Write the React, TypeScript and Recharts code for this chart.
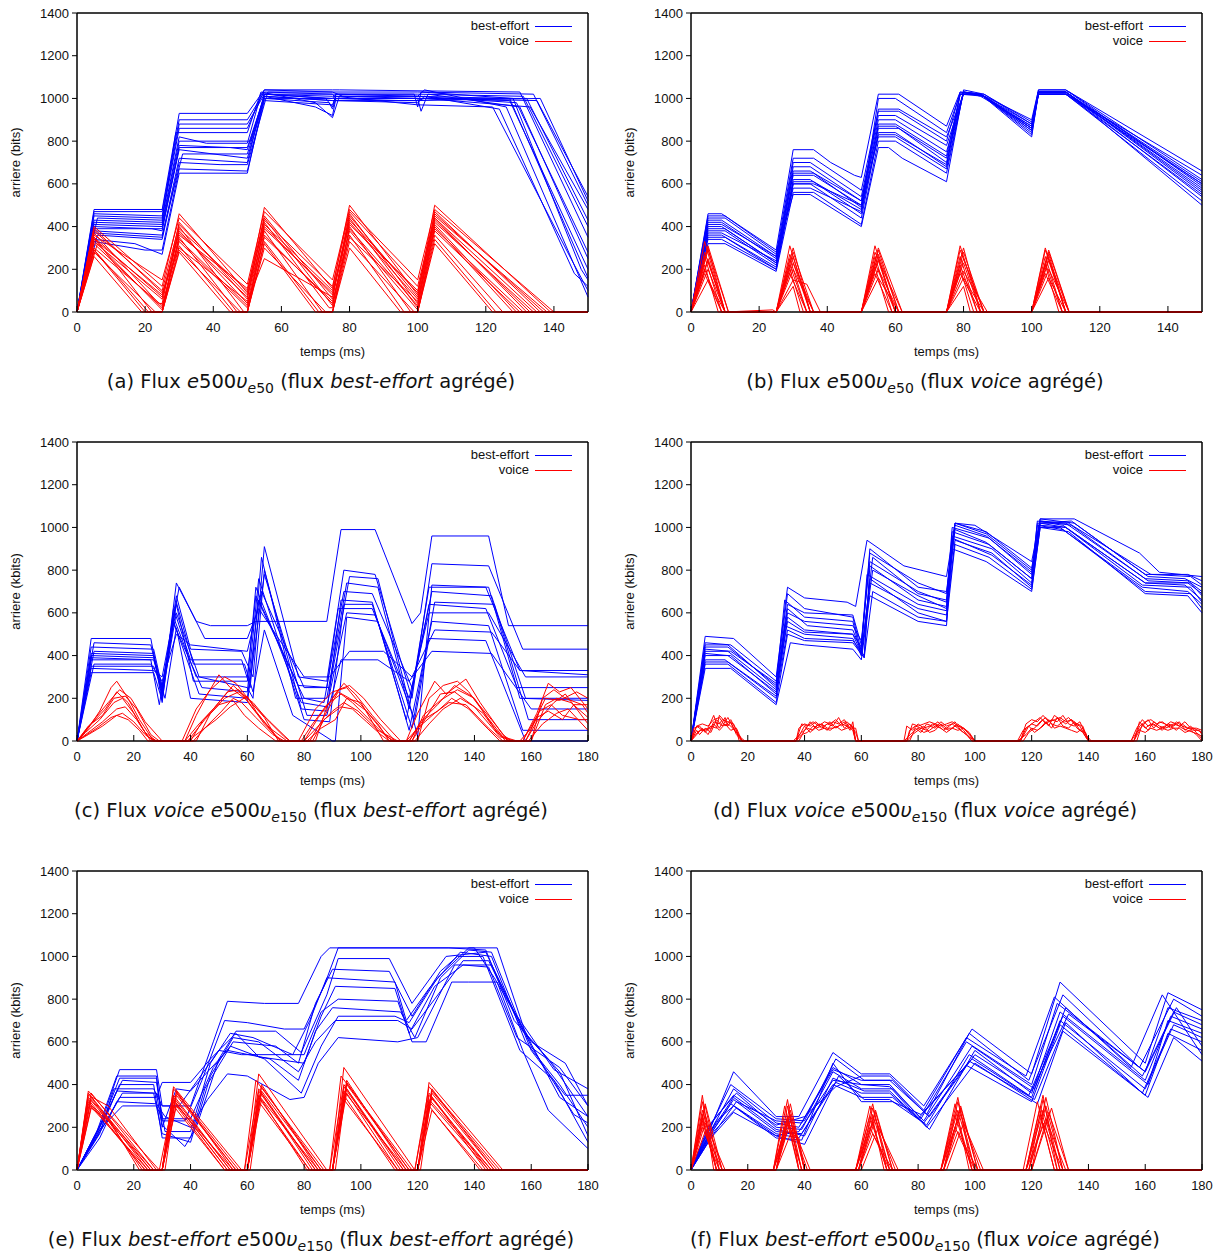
import React from 'react';
import { LineChart, Line, XAxis, YAxis, ReferenceArea } from 'recharts';

type Run = number[][];

const yTicks = [0, 200, 400, 600, 800, 1000, 1200, 1400];
const xTicks150 = [0, 20, 40, 60, 80, 100, 120, 140];
const xTicks180 = [0, 20, 40, 60, 80, 100, 120, 140, 160, 180];

// (a) e500 v_e50, best-effort aggregate
const aBest: Run[] = [
  [[0,0],[5,480],[25,480],[30,930],[50,930],[55,1040],[75,1040],[77,1040],[130,1030],[150,350]],
  [[0,0],[5,460],[25,450],[30,880],[50,880],[55,1020],[73,1000],[75,960],[76,1020],[99,1020],[100,960],[101,1030],[128,1000],[148,200],[150,150]],
  [[0,0],[6,440],[25,430],[29,840],[50,840],[54,1030],[70,980],[75,910],[77,1010],[100,1010],[102,1040],[126,960],[150,70]],
  [[0,0],[5,420],[25,410],[30,800],[51,800],[55,1020],[75,1020],[76,1000],[110,1000],[132,1000],[150,430]],
  [[0,0],[5,400],[22,390],[25,380],[30,780],[45,770],[50,760],[55,1010],[75,990],[100,980],[102,1010],[124,950],[146,180],[150,120]],
  [[0,0],[5,380],[25,360],[31,740],[50,740],[55,1000],[74,980],[75,950],[76,1000],[100,1000],[135,990],[150,540]],
  [[0,0],[6,360],[25,340],[30,700],[42,690],[50,690],[56,1030],[75,1030],[78,1010],[100,1000],[101,940],[103,1020],[130,960],[150,250]],
  [[0,0],[5,340],[17,320],[25,270],[30,650],[50,650],[55,1010],[70,960],[75,920],[76,1000],[100,1000],[127,990],[150,200]],
  [[0,0],[5,470],[25,470],[30,900],[50,900],[55,1030],[75,1020],[100,1020],[131,1010],[150,400]],
  [[0,0],[5,390],[25,390],[30,760],[50,720],[55,1000],[75,1000],[95,990],[100,990],[102,1000],[133,960],[150,480]],
  [[0,0],[5,330],[20,290],[25,290],[30,670],[50,660],[55,990],[75,970],[76,1010],[100,970],[122,960],[145,250],[150,100]],
  [[0,0],[5,430],[25,420],[30,820],[38,790],[50,790],[54,1020],[75,1010],[100,1010],[129,980],[150,280]],
  [[0,0],[5,450],[25,440],[30,860],[50,860],[55,1040],[75,1030],[100,1030],[134,1020],[150,500]],
  [[0,0],[5,370],[25,350],[30,720],[50,700],[55,1020],[75,1000],[76,1020],[100,1010],[127,1000],[150,160]],
  [[0,0],[5,410],[25,400],[30,770],[50,770],[55,1010],[75,990],[100,990],[136,1000],[150,520]],
];
const aVoice: Run[] = [
  [[0,0],[5,400],[25,120],[30,460],[50,90],[55,490],[75,110],[80,500],[100,80],[105,500],[139,0],[150,0]],
  [[0,0],[5,370],[24,40],[25,40],[30,420],[50,60],[55,450],[75,60],[80,460],[100,40],[105,470],[136,0],[150,0]],
  [[0,0],[5,350],[22,0],[25,0],[30,400],[49,0],[50,0],[55,420],[74,20],[75,20],[80,440],[100,20],[105,440],[132,0],[150,0]],
  [[0,0],[5,330],[25,60],[30,380],[50,40],[55,400],[75,80],[80,420],[100,60],[105,420],[134,0],[150,0]],
  [[0,0],[4,310],[21,0],[25,0],[30,350],[47,0],[50,0],[55,380],[72,0],[75,0],[80,400],[98,0],[100,0],[105,400],[128,0],[150,0]],
  [[0,0],[5,300],[25,30],[30,330],[50,20],[55,360],[75,40],[80,380],[100,10],[105,380],[130,0],[150,0]],
  [[0,0],[5,290],[20,0],[25,0],[30,310],[46,0],[50,0],[55,330],[71,0],[75,0],[80,360],[96,0],[100,0],[105,360],[125,0],[150,0]],
  [[0,0],[5,360],[25,150],[30,440],[50,130],[55,470],[75,150],[80,480],[100,150],[105,480],[140,0],[150,0]],
  [[0,0],[5,280],[23,0],[25,0],[30,290],[48,0],[50,0],[55,300],[73,0],[75,0],[80,330],[99,0],[100,0],[105,340],[123,0],[150,0]],
  [[0,0],[5,340],[25,80],[30,370],[50,70],[55,390],[75,90],[80,410],[100,100],[105,430],[133,0],[150,0]],
  [[0,0],[6,320],[25,10],[30,360],[50,110],[55,440],[75,30],[80,390],[100,30],[105,410],[129,0],[150,0]],
  [[0,0],[5,390],[25,90],[30,300],[50,50],[55,250],[75,70],[80,450],[100,70],[105,460],[137,0],[150,0]],
  [[0,0],[5,380],[25,100],[30,410],[50,80],[55,430],[75,120],[80,470],[100,120],[105,450],[138,0],[150,0]],
  [[0,0],[5,320],[25,20],[30,340],[50,30],[55,350],[75,50],[80,350],[100,50],[105,390],[131,0],[150,0]],
  [[0,0],[5,260],[19,0],[25,0],[30,280],[45,0],[50,0],[55,320],[70,0],[75,0],[80,300],[95,0],[100,0],[105,320],[122,0],[150,0]],
  [[0,0],[5,350],[25,70],[30,390],[50,100],[55,410],[75,100],[80,430],[100,90],[105,440],[135,0],[150,0]],
];

// (b) e500 v_e50, voice aggregate
const bBest: Run[] = [
  [[0,0],[5,460],[9,460],[25,290],[30,760],[36,760],[41,700],[48,640],[50,630],[55,1020],[61,1020],[75,870],[79,1030],[85,1020],[100,900],[102,1040],[110,1040],[150,660]],
  [[0,0],[5,440],[10,440],[25,270],[30,720],[36,720],[50,570],[55,940],[61,940],[75,800],[79,1030],[86,1010],[100,880],[102,1030],[111,1030],[150,620]],
  [[0,0],[5,420],[9,420],[25,250],[30,700],[35,700],[50,540],[55,920],[60,920],[75,780],[80,1020],[85,1020],[100,870],[102,1020],[110,1020],[150,600]],
  [[0,0],[5,400],[9,400],[25,230],[30,680],[35,680],[50,520],[55,900],[60,900],[75,750],[80,1030],[86,1010],[100,860],[102,1030],[110,1030],[150,580]],
  [[0,0],[5,380],[10,380],[25,220],[30,650],[36,650],[50,490],[55,880],[60,880],[75,730],[79,1020],[85,1020],[100,850],[102,1020],[111,1020],[150,560]],
  [[0,0],[5,360],[9,360],[25,210],[30,620],[35,620],[50,460],[55,860],[61,860],[75,700],[80,1030],[85,1020],[100,840],[102,1030],[110,1030],[150,540]],
  [[0,0],[5,340],[9,340],[25,200],[30,600],[35,600],[50,440],[55,840],[60,840],[75,680],[79,1020],[86,1010],[100,830],[102,1020],[110,1020],[150,520]],
  [[0,0],[5,320],[10,320],[25,190],[30,560],[36,560],[50,410],[55,800],[60,800],[75,650],[80,1030],[85,1020],[100,820],[102,1030],[110,1030],[150,500]],
  [[0,0],[5,450],[10,450],[25,280],[30,550],[35,550],[50,400],[55,770],[58,770],[62,720],[75,610],[80,1040],[86,1020],[100,890],[102,1020],[110,1020],[150,640]],
  [[0,0],[5,370],[9,370],[25,240],[30,580],[35,580],[50,470],[55,1000],[60,1000],[75,840],[79,1020],[85,1020],[100,860],[102,1030],[110,1030],[150,610]],
  [[0,0],[5,410],[9,410],[25,260],[30,640],[36,640],[50,500],[55,820],[60,820],[75,670],[80,1030],[85,1010],[100,870],[102,1020],[111,1020],[150,570]],
  [[0,0],[5,350],[10,350],[25,200],[30,600],[36,600],[50,500],[55,950],[61,950],[75,820],[80,1020],[86,1020],[100,880],[102,1040],[110,1040],[150,590]],
  [[0,0],[5,430],[9,430],[25,260],[30,660],[35,660],[50,520],[55,870],[60,870],[75,720],[80,1030],[85,1020],[100,860],[102,1030],[110,1030],[150,600]],
  [[0,0],[5,390],[10,390],[25,230],[30,610],[36,610],[50,480],[55,830],[60,830],[75,690],[79,1020],[85,1020],[100,850],[102,1020],[110,1020],[150,550]],
];
const bVoice: Run[] = [
  [[0,0],[4,330],[10,0],[24,10],[25,0],[29,310],[35,0],[50,0],[54,310],[60,0],[75,0],[79,310],[85,0],[100,0],[104,300],[110,0],[150,0]],
  [[0,0],[5,290],[11,0],[25,0],[30,280],[36,0],[50,0],[55,290],[61,0],[75,0],[80,280],[86,0],[100,0],[105,280],[111,0],[150,0]],
  [[0,0],[4,260],[9,0],[25,0],[29,250],[34,0],[50,0],[54,260],[59,0],[75,0],[79,260],[84,0],[100,0],[104,260],[109,0],[150,0]],
  [[0,0],[5,240],[10,0],[25,0],[30,230],[35,0],[50,0],[55,240],[60,0],[75,0],[80,230],[85,0],[100,0],[105,240],[110,0],[150,0]],
  [[0,0],[4,220],[8,0],[25,0],[29,200],[33,0],[50,0],[54,210],[58,0],[75,0],[79,200],[83,0],[100,0],[104,220],[108,0],[150,0]],
  [[0,0],[5,200],[10,0],[25,0],[30,150],[34,130],[38,0],[50,0],[55,200],[61,0],[75,0],[80,190],[87,0],[100,0],[105,200],[111,0],[150,0]],
  [[0,0],[4,280],[10,0],[25,0],[29,270],[36,0],[50,0],[54,280],[62,0],[75,0],[79,290],[86,0],[100,0],[104,290],[111,0],[150,0]],
  [[0,0],[5,310],[11,0],[25,0],[30,120],[32,0],[50,0],[55,300],[62,0],[75,0],[80,120],[82,0],[100,0],[105,290],[111,0],[150,0]],
  [[0,0],[4,180],[9,0],[25,0],[29,180],[34,0],[50,0],[54,180],[59,0],[75,0],[79,180],[85,0],[100,0],[104,180],[109,0],[150,0]],
  [[0,0],[5,250],[10,0],[25,0],[30,260],[35,0],[50,0],[55,270],[61,0],[75,0],[80,250],[86,0],[100,0],[105,250],[110,0],[150,0]],
  [[0,0],[5,300],[10,0],[25,0],[30,300],[35,0],[50,0],[55,250],[60,0],[75,0],[80,300],[85,0],[100,0],[105,270],[110,0],[150,0]],
  [[0,0],[4,200],[9,0],[25,0],[29,220],[34,0],[50,0],[54,230],[60,0],[75,0],[79,220],[84,0],[100,0],[104,230],[109,0],[150,0]],
  [[0,0],[5,150],[10,0],[25,0],[30,200],[36,0],[50,0],[55,160],[61,0],[75,0],[80,160],[86,0],[100,0],[105,160],[110,0],[150,0]],
];

// (c) voice e500 v_e150, best-effort aggregate
const cBest: Run[] = [
  [[0,0],[5,480],[26,480],[30,200],[35,740],[42,560],[47,540],[60,540],[63,560],[88,560],[93,990],[105,990],[118,550],[121,600],[125,960],[145,960],[152,540],[180,540]],
  [[0,0],[5,440],[27,430],[30,250],[35,680],[40,430],[58,420],[62,300],[66,910],[78,300],[88,280],[94,800],[105,780],[118,200],[125,830],[145,820],[157,430],[180,430]],
  [[0,0],[6,420],[27,410],[30,180],[34,620],[40,380],[58,380],[61,250],[65,860],[77,200],[88,200],[95,740],[106,720],[117,150],[124,720],[144,720],[156,330],[180,330]],
  [[0,0],[5,400],[27,390],[30,220],[35,600],[43,300],[60,250],[62,200],[66,800],[79,150],[88,140],[93,660],[104,650],[116,100],[125,700],[146,680],[158,200],[180,200]],
  [[0,0],[5,380],[26,380],[29,170],[34,550],[44,250],[60,230],[64,760],[80,100],[89,90],[94,640],[104,640],[118,60],[126,650],[147,640],[159,100],[180,100]],
  [[0,0],[6,360],[26,360],[30,280],[35,500],[40,450],[60,420],[65,700],[80,250],[88,250],[92,620],[104,620],[117,200],[124,600],[145,600],[158,300],[180,300]],
  [[0,0],[5,340],[27,330],[30,300],[36,720],[45,480],[60,480],[64,620],[80,300],[89,300],[96,420],[108,420],[118,300],[126,520],[146,510],[156,330],[180,310]],
  [[0,0],[5,320],[27,320],[30,190],[35,650],[41,360],[59,360],[62,230],[66,520],[76,120],[90,0],[91,0],[95,580],[106,560],[117,50],[125,560],[145,540],[157,50],[180,50]],
  [[0,0],[6,460],[26,450],[30,230],[34,580],[42,300],[60,300],[63,680],[80,200],[87,180],[94,700],[104,690],[118,250],[124,640],[144,620],[155,250],[180,250]],
  [[0,0],[5,410],[27,400],[30,260],[35,640],[41,280],[60,280],[63,720],[79,180],[88,160],[95,600],[105,590],[119,100],[124,480],[144,470],[158,0],[180,0]],
  [[0,0],[5,390],[27,380],[31,200],[35,530],[40,200],[60,180],[66,780],[81,120],[88,120],[93,380],[106,380],[117,280],[125,420],[146,410],[160,150],[180,150]],
  [[0,0],[5,350],[27,350],[30,240],[34,560],[43,220],[60,200],[64,660],[78,260],[89,250],[96,770],[106,760],[120,20],[125,730],[145,720],[156,200],[180,190]],
];
const cVoice: Run[] = [
  [[0,0],[4,60],[8,140],[12,250],[14,280],[18,200],[22,100],[27,0],[38,0],[42,120],[46,220],[50,310],[54,250],[60,190],[66,80],[72,0],[80,0],[85,110],[90,200],[94,270],[98,220],[104,120],[112,0],[116,0],[120,130],[126,280],[130,220],[137,290],[142,180],[150,30],[153,0],[157,0],[162,130],[166,270],[170,230],[174,250],[180,150]],
  [[0,0],[5,80],[10,150],[14,230],[18,180],[23,60],[26,0],[40,0],[44,90],[50,180],[55,260],[60,200],[66,110],[71,0],[82,0],[86,90],[92,230],[96,200],[102,140],[108,40],[111,0],[118,0],[122,120],[128,190],[134,240],[140,200],[147,60],[151,0],[158,0],[162,90],[168,180],[172,220],[176,150],[180,80]],
  [[0,0],[3,40],[8,100],[13,180],[16,200],[20,130],[24,40],[28,0],[38,0],[43,80],[48,150],[53,230],[57,240],[62,150],[68,60],[74,0],[78,0],[84,150],[90,230],[95,250],[100,170],[106,80],[110,0],[117,0],[121,90],[127,170],[133,260],[139,210],[146,100],[152,0],[156,0],[160,60],[165,200],[170,190],[176,230],[180,200]],
  [[0,0],[5,50],[9,90],[14,150],[17,160],[21,100],[25,20],[28,0],[41,0],[45,60],[51,140],[55,200],[58,180],[63,110],[69,30],[73,0],[80,0],[85,70],[90,140],[94,180],[99,140],[106,50],[113,0],[119,0],[124,80],[129,150],[135,200],[140,160],[149,20],[154,0],[159,0],[164,80],[169,130],[173,150],[180,50]],
  [[0,0],[4,30],[9,70],[14,120],[18,100],[22,50],[25,0],[39,0],[44,50],[49,100],[54,160],[60,210],[63,140],[70,20],[72,0],[81,0],[86,60],[91,100],[95,200],[100,180],[104,90],[108,0],[116,0],[120,60],[126,130],[131,180],[137,170],[145,60],[150,0],[157,0],[163,140],[167,170],[171,120],[177,100],[180,100]],
  [[0,0],[6,100],[11,180],[15,240],[19,200],[24,90],[30,0],[37,0],[42,150],[47,240],[52,300],[56,270],[62,170],[68,90],[75,0],[84,0],[88,160],[92,240],[96,260],[101,200],[107,100],[114,0],[120,0],[124,200],[129,260],[134,280],[138,230],[144,120],[150,20],[155,0],[160,0],[164,200],[168,240],[172,200],[178,170],[180,130]],
  [[0,0],[4,70],[9,120],[13,200],[17,210],[21,150],[26,30],[29,0],[42,0],[47,130],[52,200],[57,230],[62,180],[67,100],[73,20],[75,0],[79,0],[83,80],[88,170],[93,220],[97,180],[103,100],[109,20],[112,0],[118,0],[123,110],[128,220],[133,230],[137,190],[143,130],[148,40],[152,0],[160,0],[165,170],[169,200],[174,180],[180,110]],
  [[0,0],[7,60],[12,110],[16,130],[20,90],[24,30],[27,0],[39,0],[45,100],[50,170],[55,190],[59,120],[64,60],[70,0],[83,0],[87,100],[93,160],[97,150],[102,90],[107,30],[110,0],[117,0],[122,100],[127,140],[132,200],[138,150],[143,80],[149,0],[158,0],[162,110],[166,140],[171,100],[175,170],[180,170]],
];

// (d) voice e500 v_e150, voice aggregate
const dBest: Run[] = [
  [[0,0],[5,490],[15,480],[30,300],[34,720],[40,670],[55,650],[58,630],[62,940],[75,820],[90,770],[93,1020],[100,1010],[120,840],[123,1040],[135,1040],[158,880],[165,790],[180,770]],
  [[0,0],[5,460],[14,450],[30,280],[34,690],[40,620],[57,580],[60,420],[63,900],[80,720],[90,700],[93,1020],[104,980],[120,810],[123,1030],[133,1020],[162,780],[176,770],[180,730]],
  [[0,0],[5,440],[13,440],[30,260],[33,660],[40,580],[57,560],[60,400],[64,860],[80,690],[90,660],[92,1000],[105,950],[120,780],[122,1020],[132,1020],[160,760],[175,750],[180,700]],
  [[0,0],[5,420],[13,420],[30,240],[34,620],[41,540],[57,520],[61,390],[63,820],[80,660],[90,630],[93,990],[104,930],[120,760],[123,1030],[134,1010],[161,750],[176,740],[180,680]],
  [[0,0],[5,400],[14,400],[30,220],[34,580],[40,520],[57,500],[60,440],[62,780],[80,640],[90,610],[92,960],[106,900],[120,740],[123,1020],[132,1000],[160,740],[174,730],[180,660]],
  [[0,0],[5,380],[12,380],[30,200],[33,540],[40,500],[57,480],[60,400],[63,740],[80,620],[90,590],[93,940],[106,880],[120,720],[122,1010],[131,990],[159,720],[175,700],[180,640]],
  [[0,0],[5,360],[13,360],[30,180],[34,500],[40,470],[57,460],[61,390],[64,700],[80,580],[90,560],[93,920],[105,860],[120,710],[123,1000],[130,1000],[160,700],[176,690],[180,620]],
  [[0,0],[5,340],[14,340],[30,170],[35,460],[40,450],[57,430],[60,380],[63,680],[80,560],[90,540],[92,900],[104,840],[120,700],[123,1000],[133,980],[160,690],[175,680],[180,600]],
  [[0,0],[5,450],[13,450],[30,250],[34,600],[40,560],[57,540],[60,470],[63,840],[80,700],[90,650],[93,1010],[104,960],[120,790],[123,1020],[134,1030],[161,770],[174,760],[180,720]],
  [[0,0],[5,410],[13,400],[30,230],[34,560],[40,510],[57,500],[60,410],[64,800],[80,680],[90,620],[92,980],[105,920],[120,760],[122,1030],[131,1010],[160,740],[175,740],[180,690]],
  [[0,0],[5,430],[14,420],[30,270],[34,640],[40,600],[57,590],[60,450],[63,880],[80,740],[90,690],[93,1020],[104,970],[120,800],[123,1040],[135,1020],[160,780],[175,780],[180,750]],
  [[0,0],[5,370],[13,370],[30,210],[34,520],[40,480],[57,470],[61,400],[63,760],[80,600],[90,560],[92,950],[106,870],[120,730],[123,1010],[132,1000],[159,730],[176,720],[180,650]],
];
const dVoice: Run[] = [
  [[0,0],[1,40],[2,70],[4,50],[6,60],[8,120],[9,80],[10,60],[12,110],[13,70],[14,90],[16,30],[18,0],[37,0],[38,60],[40,80],[42,70],[44,90],[46,60],[48,80],[50,70],[52,110],[54,60],[56,80],[58,40],[59,0],[75,0],[76,70],[78,50],[80,80],[82,60],[84,70],[86,60],[88,90],[90,70],[92,80],[94,60],[96,40],[98,20],[100,0],[115,0],[117,50],[119,70],[121,90],[123,110],[125,80],[127,100],[129,90],[131,120],[133,80],[135,70],[137,90],[139,30],[141,0],[155,0],[157,60],[159,100],[161,70],[163,80],[165,60],[167,70],[169,90],[171,80],[173,60],[175,50],[177,40],[179,30],[180,20]],
  [[0,0],[2,50],[3,30],[5,60],[7,40],[9,100],[11,70],[13,110],[15,60],[17,20],[18,0],[36,0],[39,40],[41,60],[43,50],[45,80],[47,70],[49,90],[51,60],[53,80],[55,70],[57,50],[58,0],[76,0],[77,50],[79,70],[81,60],[83,50],[85,80],[87,70],[89,50],[91,70],[93,90],[95,50],[97,30],[99,0],[116,0],[118,60],[120,80],[122,70],[124,100],[126,70],[128,120],[130,100],[132,80],[134,100],[136,60],[138,40],[140,0],[156,0],[158,90],[160,60],[162,80],[164,70],[166,50],[168,80],[170,70],[172,90],[174,50],[176,70],[178,40],[180,10]],
  [[0,0],[1,60],[3,70],[5,40],[7,70],[9,60],[10,120],[12,90],[14,70],[16,40],[18,10],[19,0],[38,0],[40,50],[42,90],[44,60],[46,70],[48,50],[50,90],[52,80],[54,100],[56,60],[58,60],[59,0],[77,0],[79,60],[81,40],[83,80],[85,70],[87,90],[89,60],[91,50],[93,70],[95,70],[97,50],[100,0],[117,0],[119,40],[121,60],[123,90],[125,110],[127,80],[129,70],[131,90],[133,110],[135,80],[137,70],[139,20],[140,0],[155,0],[157,40],[159,70],[161,100],[163,60],[165,90],[167,80],[169,60],[171,90],[173,70],[175,60],[177,60],[180,40]],
  [[0,0],[2,30],[4,60],[6,30],[8,80],[10,50],[12,80],[14,50],[16,60],[17,30],[18,0],[37,0],[39,30],[41,40],[43,70],[45,50],[47,60],[49,50],[51,70],[53,50],[55,60],[57,70],[58,0],[75,0],[78,40],[80,60],[82,40],[84,50],[86,70],[88,60],[90,40],[92,60],[94,50],[96,60],[98,30],[100,0],[115,0],[118,30],[120,60],[122,50],[124,70],[126,100],[128,60],[130,70],[132,60],[134,50],[136,40],[138,60],[140,0],[156,0],[158,50],[160,40],[162,60],[164,50],[166,60],[168,50],[170,60],[172,60],[174,40],[176,50],[178,30],[180,0]],
  [[0,0],[1,20],[3,50],[5,50],[7,60],[8,90],[10,80],[11,100],[13,90],[15,80],[16,50],[17,0],[37,0],[40,70],[42,40],[44,70],[46,80],[48,60],[50,60],[52,70],[54,90],[56,50],[57,90],[58,0],[76,0],[78,30],[80,50],[82,70],[84,40],[86,50],[88,80],[90,60],[92,60],[94,80],[96,50],[99,0],[116,0],[119,70],[121,40],[123,60],[125,90],[127,60],[129,110],[131,70],[133,60],[135,90],[137,50],[139,40],[140,0],[157,0],[159,80],[161,50],[163,90],[165,70],[167,60],[169,70],[171,50],[173,80],[175,60],[177,50],[179,50],[180,30]],
  [[0,0],[2,70],[4,80],[6,70],[8,100],[10,110],[12,70],[14,100],[16,50],[18,0],[37,0],[39,80],[41,70],[43,90],[45,70],[47,90],[49,80],[51,100],[53,70],[55,90],[57,60],[58,0],[76,0],[78,80],[80,70],[82,80],[84,90],[86,80],[88,70],[90,80],[92,90],[94,70],[96,60],[98,40],[100,0],[116,0],[118,80],[120,100],[122,90],[124,120],[126,90],[128,100],[130,110],[132,90],[134,100],[136,80],[138,70],[140,0],[156,0],[158,70],[160,90],[162,100],[164,80],[166,90],[168,70],[170,80],[172,70],[174,90],[176,60],[178,60],[180,50]],
];

// (e) best-effort e500 v_e150, best-effort aggregate
const eBest: Run[] = [
  [[0,0],[8,200],[15,470],[28,470],[30,300],[40,300],[48,600],[53,790],[66,780],[78,780],[86,1000],[89,1040],[140,1040],[147,900],[160,600],[172,500],[180,300]],
  [[0,0],[7,180],[14,440],[28,440],[30,230],[38,230],[44,420],[52,700],[60,690],[73,660],[80,660],[87,860],[92,1040],[118,1040],[131,1040],[144,1030],[154,700],[166,520],[180,250]],
  [[0,0],[9,230],[16,420],[28,410],[31,180],[40,180],[47,500],[54,640],[62,620],[76,540],[82,700],[88,900],[112,880],[116,700],[124,850],[135,1020],[146,1000],[158,600],[170,400],[180,200]],
  [[0,0],[10,250],[15,400],[27,400],[30,150],[40,150],[45,380],[55,600],[70,580],[78,500],[84,780],[90,940],[110,930],[118,720],[128,930],[134,1000],[143,1000],[156,560],[168,420],[180,130]],
  [[0,0],[8,170],[13,380],[27,380],[30,300],[36,300],[43,430],[50,560],[58,540],[72,540],[80,540],[86,740],[92,800],[113,790],[117,640],[126,860],[136,960],[145,950],[155,620],[170,480],[180,300]],
  [[0,0],[10,220],[16,360],[28,360],[30,200],[35,380],[40,370],[46,460],[53,560],[68,520],[78,420],[84,650],[90,760],[114,740],[119,620],[128,900],[138,1030],[146,1020],[160,560],[172,350],[180,350]],
  [[0,0],[9,200],[15,340],[28,340],[30,410],[40,410],[47,520],[56,640],[64,530],[80,500],[86,720],[91,860],[112,850],[118,600],[123,600],[132,880],[138,880],[148,880],[157,560],[166,280],[180,100]],
  [[0,0],[8,150],[14,320],[28,310],[31,250],[40,200],[46,330],[53,450],[60,440],[75,330],[80,340],[85,500],[92,620],[113,600],[120,620],[133,960],[146,960],[160,580],[175,260],[180,220]],
  [[0,0],[10,260],[15,430],[28,430],[30,210],[38,110],[42,200],[50,520],[56,650],[70,650],[79,550],[88,820],[92,990],[110,990],[118,780],[130,1000],[144,1020],[154,740],[168,470],[180,380]],
  [[0,0],[9,210],[14,370],[27,360],[30,170],[40,130],[47,440],[55,620],[64,600],[78,460],[84,600],[91,700],[113,700],[118,660],[126,800],[136,980],[145,980],[157,650],[170,460],[180,160]],
  [[0,0],[8,190],[16,300],[28,300],[30,240],[40,240],[48,480],[54,580],[66,520],[79,360],[86,580],[92,720],[112,720],[117,690],[127,900],[138,1040],[148,1040],[158,640],[170,340],[180,250]],
];
const eVoice: Run[] = [
  [[0,0],[4,370],[29,0],[30,0],[34,390],[58,0],[60,0],[64,450],[88,0],[90,0],[94,480],[119,0],[120,0],[124,410],[150,0],[180,0]],
  [[0,0],[4,360],[26,0],[30,0],[35,370],[55,0],[60,0],[65,400],[85,0],[90,0],[95,420],[116,0],[120,0],[125,380],[147,0],[180,0]],
  [[0,0],[5,340],[25,0],[30,0],[34,350],[54,0],[59,0],[64,380],[84,0],[89,0],[94,400],[115,0],[119,0],[124,360],[145,0],[180,0]],
  [[0,0],[4,320],[24,0],[29,0],[34,330],[53,0],[60,0],[65,360],[83,0],[90,0],[95,380],[114,0],[120,0],[125,340],[144,0],[180,0]],
  [[0,0],[5,300],[10,250],[23,0],[30,0],[35,300],[52,0],[60,0],[64,340],[82,0],[90,0],[94,350],[112,0],[120,0],[124,300],[142,0],[180,0]],
  [[0,0],[4,350],[11,300],[28,0],[30,0],[34,380],[57,0],[59,0],[63,420],[87,0],[89,0],[93,440],[118,0],[119,0],[124,390],[149,0],[180,0]],
  [[0,0],[5,330],[27,0],[31,0],[35,360],[56,0],[61,0],[65,390],[86,0],[91,0],[95,410],[117,0],[121,0],[125,370],[148,0],[180,0]],
  [[0,0],[4,310],[25,0],[30,0],[34,340],[54,0],[60,0],[64,370],[84,0],[90,0],[94,390],[115,0],[120,0],[124,350],[146,0],[180,0]],
  [[0,0],[5,290],[12,220],[22,0],[30,0],[35,310],[53,0],[60,0],[65,330],[81,0],[90,0],[95,360],[113,0],[120,0],[125,280],[143,0],[180,0]],
  [[0,0],[4,340],[26,0],[30,0],[34,320],[55,0],[60,0],[64,350],[85,0],[90,0],[94,370],[116,0],[120,0],[124,330],[146,0],[180,0]],
  [[0,0],[4,330],[24,0],[30,0],[34,300],[52,0],[60,0],[64,320],[82,0],[90,0],[94,330],[113,0],[120,0],[124,320],[145,0],[180,0]],
  [[0,0],[5,360],[27,0],[30,0],[35,350],[56,0],[60,0],[65,370],[86,0],[90,0],[95,400],[117,0],[120,0],[125,360],[147,0],[180,0]],
];

// (f) best-effort e500 v_e150, voice aggregate
const fBest: Run[] = [
  [[0,0],[7,200],[15,460],[30,250],[38,250],[50,550],[60,450],[70,450],[82,300],[99,660],[120,450],[130,880],[160,500],[168,830],[180,750]],
  [[0,0],[6,180],[14,400],[30,240],[40,230],[51,520],[61,420],[71,420],[83,260],[98,640],[119,420],[131,820],[158,480],[170,800],[180,720]],
  [[0,0],[8,210],[15,380],[30,220],[38,200],[50,480],[60,400],[70,400],[81,240],[97,600],[120,400],[129,780],[160,460],[168,760],[180,700]],
  [[0,0],[7,220],[16,360],[30,200],[39,190],[50,460],[60,380],[71,380],[82,230],[99,580],[121,380],[132,760],[159,440],[170,740],[180,680]],
  [[0,0],[6,160],[15,340],[30,190],[40,160],[50,430],[61,370],[70,370],[84,190],[100,560],[120,360],[130,740],[160,420],[169,720],[180,660]],
  [[0,0],[8,190],[15,330],[30,180],[39,170],[51,410],[60,360],[70,360],[83,210],[98,540],[119,350],[131,720],[161,400],[168,700],[180,640]],
  [[0,0],[7,170],[14,310],[30,170],[38,150],[50,400],[60,340],[71,340],[80,240],[99,520],[120,340],[130,700],[160,380],[170,680],[180,620]],
  [[0,0],[9,230],[15,300],[30,160],[40,120],[52,440],[61,330],[70,330],[82,220],[98,510],[121,330],[132,690],[159,360],[169,660],[180,600]],
  [[0,0],[8,180],[16,290],[30,150],[39,140],[50,500],[60,320],[71,320],[81,260],[97,490],[120,320],[130,680],[160,350],[168,640],[180,560]],
  [[0,0],[7,150],[15,270],[30,160],[38,180],[50,420],[60,400],[70,390],[83,200],[100,500],[122,310],[131,650],[161,340],[170,620],[180,510]],
  [[0,0],[6,200],[15,350],[30,210],[40,250],[51,390],[60,440],[70,440],[82,280],[97,620],[118,440],[128,810],[155,480],[166,820],[180,540]],
  [[0,0],[8,170],[16,320],[30,230],[39,220],[50,470],[60,420],[70,420],[84,250],[100,540],[120,370],[133,730],[160,460],[171,760],[180,580]],
];
const fVoice: Run[] = [
  [[0,0],[4,350],[8,0],[29,0],[34,330],[38,0],[58,0],[64,310],[69,0],[88,0],[94,340],[99,0],[118,0],[124,350],[129,0],[180,0]],
  [[0,0],[4,320],[9,0],[30,0],[34,300],[39,0],[59,0],[64,290],[70,0],[89,0],[94,320],[100,0],[119,0],[124,330],[130,0],[180,0]],
  [[0,0],[5,300],[10,0],[30,0],[35,280],[40,0],[59,0],[65,280],[71,0],[89,0],[95,300],[101,0],[119,0],[125,300],[131,0],[180,0]],
  [[0,0],[4,280],[10,0],[29,0],[34,250],[39,0],[58,0],[64,260],[70,0],[88,0],[94,280],[100,0],[118,0],[124,280],[130,0],[180,0]],
  [[0,0],[5,260],[11,0],[30,0],[35,230],[41,0],[59,0],[65,240],[72,0],[89,0],[95,260],[102,0],[120,0],[127,290],[133,0],[180,0]],
  [[0,0],[4,240],[9,0],[29,0],[34,220],[38,0],[58,0],[64,220],[69,0],[88,0],[94,240],[99,0],[118,0],[123,260],[128,0],[180,0]],
  [[0,0],[5,220],[12,0],[30,0],[36,200],[42,0],[60,0],[66,200],[73,0],[90,0],[96,220],[103,0],[120,0],[126,270],[133,0],[180,0]],
  [[0,0],[4,200],[10,0],[29,0],[34,180],[38,150],[40,0],[58,0],[63,200],[70,0],[88,0],[93,200],[100,0],[118,0],[125,240],[132,0],[180,0]],
  [[0,0],[5,180],[11,0],[30,0],[35,260],[40,0],[59,0],[64,170],[71,0],[89,0],[94,180],[101,0],[119,0],[124,220],[131,0],[180,0]],
  [[0,0],[4,260],[9,0],[29,0],[33,300],[38,0],[58,0],[63,300],[68,0],[88,0],[93,310],[98,0],[117,0],[122,320],[128,0],[180,0]],
  [[0,0],[5,310],[11,0],[30,0],[35,310],[40,0],[59,0],[65,270],[71,0],[89,0],[95,290],[101,0],[120,0],[125,340],[131,0],[180,0]],
  [[0,0],[4,230],[9,0],[29,0],[34,240],[39,0],[58,0],[63,250],[69,0],[88,0],[93,260],[99,0],[118,0],[123,300],[129,0],[180,0]],
];

const BLUE = '#0000ff';
const RED = '#ff0000';
const FONT = '"Liberation Sans", Arial, Helvetica, sans-serif';
const CAPTION_FONT = '"DejaVu Sans", "Liberation Sans", sans-serif';

const toPts = (run: Run) => run.map(([x, y]) => ({ x, y }));

interface PanelProps {
  left: number;
  top: number;
  xMax: number;
  xTicks: number[];
  yLabel: string;
  best: Run[];
  voice: Run[];
  caption: React.ReactNode;
}

const Panel: React.FC<PanelProps> = ({ left, top, xMax, xTicks, yLabel, best, voice, caption }) => {
  const tickStyle = { fill: '#111', fontSize: 13, fontFamily: FONT };
  return (
    <div style={{ position: 'absolute', left, top, width: 600, height: 400 }}>
      <LineChart width={600} height={360} margin={{ top: 12, right: 11, bottom: 0, left: 0 }}>
        <XAxis
          type="number"
          dataKey="x"
          domain={[0, xMax]}
          ticks={xTicks}
          height={48}
          tickSize={-6}
          tickMargin={17}
          stroke="#000"
          tick={tickStyle}
          label={{ value: 'temps (ms)', position: 'insideBottom', offset: 4, fill: '#111', fontSize: 13, fontFamily: FONT }}
        />
        <XAxis
          xAxisId="top"
          orientation="top"
          type="number"
          dataKey="x"
          domain={[0, xMax]}
          ticks={xTicks}
          height={1}
          tickSize={-6}
          tick={false}
          stroke="#000"
        />
        <YAxis
          type="number"
          domain={[0, 1400]}
          ticks={yTicks}
          width={77}
          tickSize={5}
          tickMargin={3}
          stroke="#000"
          tick={tickStyle}
          label={{ value: yLabel, angle: -90, position: 'insideLeft', offset: 15, fill: '#111', fontSize: 13, fontFamily: FONT, style: { textAnchor: 'middle' } }}
        />
        <YAxis
          yAxisId="right"
          orientation="right"
          type="number"
          domain={[0, 1400]}
          ticks={yTicks}
          width={1}
          tickSize={-6}
          tick={false}
          stroke="#000"
        />
        <ReferenceArea x1={0} x2={xMax} y1={0} y2={1400} fill="none" stroke="#000" strokeWidth={1} fillOpacity={0} />
        {best.map((run, i) => (
          <Line key={'b' + i} data={toPts(run)} dataKey="y" type="linear" stroke={BLUE} strokeWidth={1} dot={false} isAnimationActive={false} />
        ))}
        {voice.map((run, i) => (
          <Line key={'v' + i} data={toPts(run)} dataKey="y" type="linear" stroke={RED} strokeWidth={1} dot={false} isAnimationActive={false} />
        ))}
      </LineChart>
      {/* legend, top right inside the frame */}
      <div style={{ position: 'absolute', right: 71, top: 18, fontFamily: FONT, fontSize: 13, lineHeight: '15px', color: '#111', textAlign: 'right' }}>
        <div>best-effort</div>
        <div>voice</div>
      </div>
      <svg style={{ position: 'absolute', left: 535, top: 20, overflow: 'visible' }} width={37} height={30}>
        <line x1={0} x2={37} y1={6.5} y2={6.5} stroke={BLUE} strokeWidth={1} />
        <line x1={0} x2={37} y1={21.5} y2={21.5} stroke={RED} strokeWidth={1} />
      </svg>
      <div style={{ position: 'absolute', left: 11, top: 370, width: 600, textAlign: 'center', fontFamily: CAPTION_FONT, fontSize: 19.5, lineHeight: '24px', color: '#111', whiteSpace: 'nowrap' }}>
        {caption}
      </div>
    </div>
  );
};

const Sym: React.FC<{ sub: string }> = ({ sub }) => (
  <span>
    <i>e</i>500<i>υ</i>
    <sub style={{ fontSize: 14 }}>
      <i>e</i>{sub}
    </sub>
  </span>
);

const App: React.FC = () => (
  <div style={{ position: 'absolute', left: 0, top: 0, width: 1219, height: 1255, background: '#fff' }}>
    <Panel left={0} top={0} xMax={150} xTicks={xTicks150} yLabel="arriere (bits)" best={aBest} voice={aVoice}
      caption={<>(a) Flux <Sym sub="50" /> (flux <i>best-effort</i> agrégé)</>} />
    <Panel left={614} top={0} xMax={150} xTicks={xTicks150} yLabel="arriere (bits)" best={bBest} voice={bVoice}
      caption={<>(b) Flux <Sym sub="50" /> (flux <i>voice</i> agrégé)</>} />
    <Panel left={0} top={429} xMax={180} xTicks={xTicks180} yLabel="arriere (kbits)" best={cBest} voice={cVoice}
      caption={<>(c) Flux <i>voice</i> <Sym sub="150" /> (flux <i>best-effort</i> agrégé)</>} />
    <Panel left={614} top={429} xMax={180} xTicks={xTicks180} yLabel="arriere (kbits)" best={dBest} voice={dVoice}
      caption={<>(d) Flux <i>voice</i> <Sym sub="150" /> (flux <i>voice</i> agrégé)</>} />
    <Panel left={0} top={858} xMax={180} xTicks={xTicks180} yLabel="arriere (kbits)" best={eBest} voice={eVoice}
      caption={<>(e) Flux <i>best-effort</i> <Sym sub="150" /> (flux <i>best-effort</i> agrégé)</>} />
    <Panel left={614} top={858} xMax={180} xTicks={xTicks180} yLabel="arriere (kbits)" best={fBest} voice={fVoice}
      caption={<>(f) Flux <i>best-effort</i> <Sym sub="150" /> (flux <i>voice</i> agrégé)</>} />
  </div>
);

export default App;
